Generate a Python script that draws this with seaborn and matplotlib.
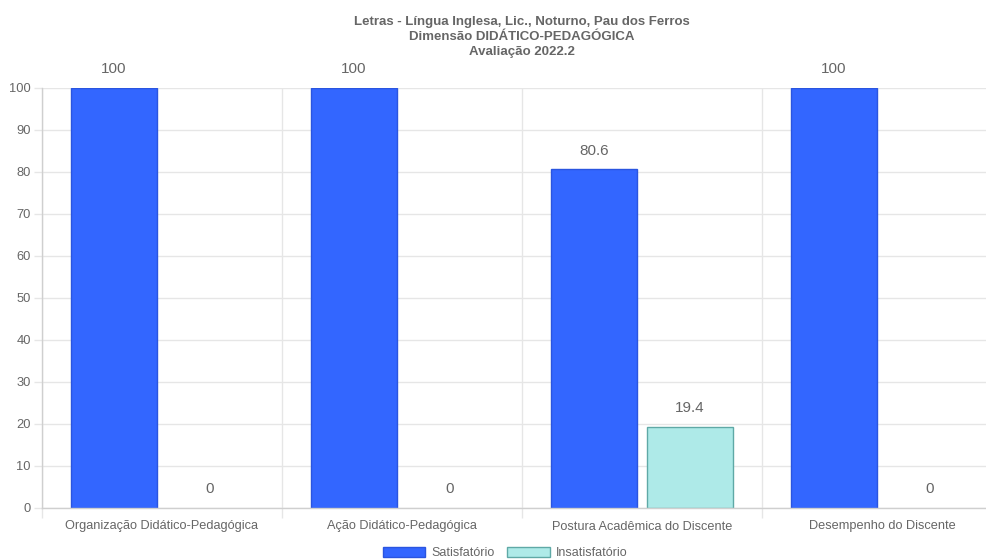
import matplotlib
matplotlib.use("Agg")
import matplotlib.pyplot as plt
import seaborn as sns
import pandas as pd

categories = [
    "Organização Didático-Pedagógica",
    "Ação Didático-Pedagógica",
    "Postura Acadêmica do Discente",
    "Desempenho do Discente",
]
series_names = ["Satisfatório", "Insatisfatório"]
satisfatorio = [100, 100, 80.6, 100]
insatisfatorio = [0, 0, 19.4, 0]
y_ticks = [0, 10, 20, 30, 40, 50, 60, 70, 80, 90, 100]
title_lines = [
    "Letras - Língua Inglesa, Lic., Noturno, Pau dos Ferros",
    "Dimensão DIDÁTICO-PEDAGÓGICA",
    "Avaliação 2022.2",
]

df = pd.DataFrame({
    "categoria": categories * 2,
    "serie": [series_names[0]] * len(categories) + [series_names[1]] * len(categories),
    "valor": satisfatorio + insatisfatorio,
})

fill_colors = {"Satisfatório": "#3366FF", "Insatisfatório": "#AEEAE8"}
edge_colors = {"Satisfatório": "#2A55E0", "Insatisfatório": "#5FA9A6"}
text_grey = "#666666"
grid_grey = "#E6E6E6"

sns.set_theme(style="white")
plt.rcParams["font.family"] = ["Liberation Sans", "DejaVu Sans"]

W, H = 987, 560
fig = plt.figure(figsize=(W / 100, H / 100), dpi=100)
# plot area in pixels: x 42..1002, y 88..508 (from top)
ax = fig.add_axes([42 / W, 52 / H, 960 / W, 420 / H])

sns.barplot(
    data=df, x="categoria", y="valor", hue="serie",
    order=categories, hue_order=series_names,
    palette=fill_colors, saturation=1, width=0.8, gap=0.1,
    linewidth=1, ax=ax, legend=False,
)

for container, name in zip(ax.containers, series_names):
    for bar, v in zip(container, container.datavalues):
        bar.set_edgecolor(edge_colors[name])
        bar.set_linewidth(1.0 if v > 0 else 0)
    ax.bar_label(
        container,
        labels=[f"{v:g}" for v in container.datavalues],
        padding=8.5, fontsize=11, color=text_grey,
    )

ax.set_xlim(-0.5, 3.5)
ax.set_ylim(0, 100)
ax.set_yticks(y_ticks)
ax.set_yticklabels([str(t) for t in y_ticks])
ax.set_xlabel("")
ax.set_ylabel("")

# grid lines: horizontal at y ticks, vertical at category boundaries
ax.set_xticks([i - 0.5 for i in range(len(categories) + 1)], minor=True)
ax.grid(axis="y", which="major", color=grid_grey, linewidth=1)
ax.grid(axis="x", which="minor", color=grid_grey, linewidth=1)
ax.set_axisbelow(True)

ax.tick_params(axis="y", which="major", length=6, width=1, color=grid_grey,
               labelsize=9.3, labelcolor=text_grey, pad=2, left=True)
ax.tick_params(axis="x", which="major", length=0, labelsize=9.2,
               labelcolor=text_grey, pad=9)
ax.tick_params(axis="x", which="minor", length=7.5, width=1, color=grid_grey,
               bottom=True)

for side in ["top", "right"]:
    ax.spines[side].set_visible(False)
for side in ["left", "bottom"]:
    ax.spines[side].set_color("#CFCFCF")
    ax.spines[side].set_linewidth(1)

ax.set_title("\n".join(title_lines), fontsize=9.5, fontweight="bold",
             color=text_grey, pad=24, linespacing=1.32)

handles = [
    plt.Rectangle((0, 0), 1, 1, facecolor=fill_colors[n], edgecolor=edge_colors[n], linewidth=1)
    for n in series_names
]
fig.legend(
    handles, series_names, loc="center", bbox_to_anchor=(505 / W, 7 / H),
    ncol=2, frameon=False, fontsize=9, labelcolor=text_grey,
    handlelength=3.4, handleheight=0.95, handletextpad=0.5, columnspacing=1.0,
)

fig.savefig("out.png", dpi=100)
